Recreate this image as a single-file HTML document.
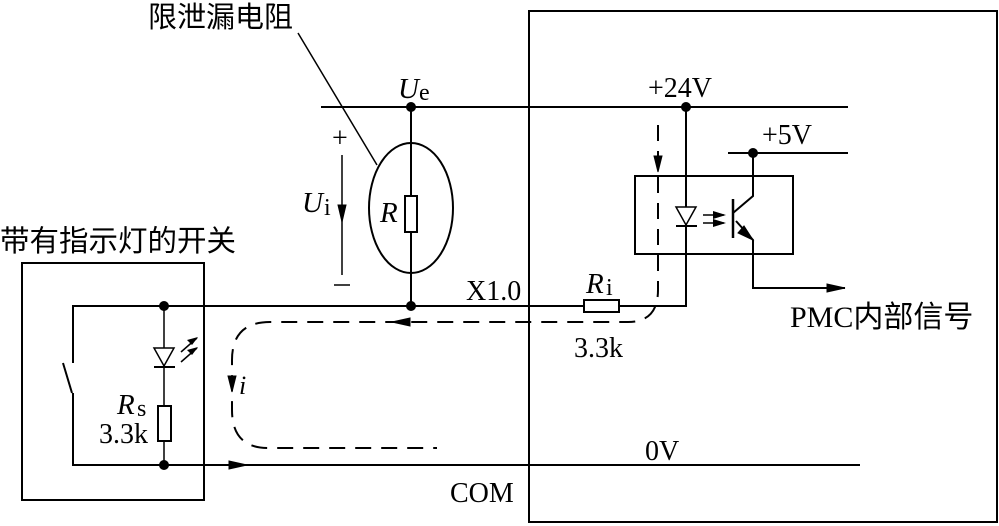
<!DOCTYPE html>
<html><head><meta charset="utf-8"><style>
body{margin:0;background:#fff}
svg{display:block}
text{font-family:"Liberation Serif","Noto Serif CJK SC",serif;fill:#000}
.cj{font-family:"Liberation Serif","Noto Sans CJK SC",sans-serif}
</style></head><body>
<svg width="999" height="526" viewBox="0 0 999 526" xmlns="http://www.w3.org/2000/svg">
<g stroke="#000" stroke-width="2" fill="none">
<rect x="529" y="11" width="468" height="511"/>
<rect x="22" y="263" width="182" height="237"/>
<line x1="321" y1="107" x2="848" y2="107"/>
<line x1="411" y1="107" x2="411" y2="306"/>
<ellipse cx="411" cy="208" rx="42" ry="65"/>
<rect x="405" y="196" width="12" height="36" fill="#fff"/>
<line x1="298" y1="33" x2="377" y2="165" stroke-width="1.5"/>
<line x1="342" y1="155" x2="342" y2="275" stroke-width="1.5"/>
<polyline points="73,363 73,306 584,306"/>
<rect x="584" y="300" width="35" height="12" fill="#fff"/>
<polyline points="619,306 686,306 686,107"/>
<polyline points="73,393 73,465 860,465"/>
<line x1="63" y1="363" x2="72" y2="393"/>
<line x1="164" y1="306" x2="164" y2="465" stroke-width="1.5"/>
<rect x="158" y="406" width="13" height="35" fill="#fff"/>
<rect x="635" y="176" width="158" height="78"/>
<line x1="728" y1="153" x2="848" y2="153"/>
<polyline points="753,153 753,196 733,213"/>
<line x1="733" y1="199" x2="733" y2="238" stroke-width="2.5"/>
<polyline points="736,221 753,240 753,288 845,288"/>
<path d="M658,125 V290 Q658,322 628,322 H270 Q232,322 232,360 V410 Q232,448 268,448 H437" stroke-dasharray="16,10"/>
<line x1="334" y1="285" x2="350" y2="285" stroke-width="1.5"/>
</g>
<g fill="#000" stroke="#000">
<circle cx="411" cy="107" r="4.5"/><circle cx="411" cy="306" r="4.5"/>
<circle cx="686" cy="107" r="4.5"/><circle cx="753" cy="153" r="4.5"/>
<circle cx="164" cy="306" r="4.5"/><circle cx="164" cy="465" r="4.5"/>
<polygon points="342,222 338,205 346,205"/>
<polygon points="658,172 654,156 662,156"/>
<polygon points="392,322 410,318 410,326"/>
<polygon points="232,392 228,376 236,376"/>
<polygon points="247,465 229,461 229,469"/>
<polygon points="845,288 827,284 827,292"/>
<polygon points="753,240 738,233 744,226"/>
<polygon points="154,348 174,348 164,366" fill="#fff" stroke-width="1.5"/>
<line x1="154" y1="367" x2="175" y2="367" stroke-width="2"/>
<polygon points="676,207 696,207 686,225" fill="#fff" stroke-width="1.5"/>
<line x1="676" y1="226" x2="697" y2="226" stroke-width="2"/>
<g stroke-width="1.5">
<line x1="703" y1="215" x2="724" y2="215"/><line x1="703" y1="223" x2="724" y2="223"/>
<line x1="181" y1="352" x2="197" y2="338"/><line x1="181" y1="362" x2="197" y2="348"/>
</g>
<polygon points="726,215 713,211 713,219" stroke="none"/>
<polygon points="726,223 713,219 713,227" stroke="none"/>
<polygon points="198,337 187,340 192,345" stroke="none"/>
<polygon points="198,347 187,350 192,355" stroke="none"/>
</g>
<text x="148" y="27" font-size="29" class="cj">限泄漏电阻</text>
<text x="0" y="251" font-size="29.5" class="cj">带有指示灯的开关</text>
<text x="398" y="98" font-size="29" font-style="italic">U</text><text x="419" y="100" font-size="24">e</text>
<text x="332" y="147" font-size="28">+</text>
<text x="302" y="212" font-size="29" font-style="italic">U</text><text x="324" y="215" font-size="24">i</text>
<text x="380" y="222" font-size="29" font-style="italic">R</text>
<text x="466" y="300" font-size="28">X1.0</text>
<text x="586" y="293" font-size="29" font-style="italic">R</text><text x="606" y="295" font-size="24">i</text>
<text x="574" y="357" font-size="28">3.3k</text>
<text x="648" y="97" font-size="28">+24V</text>
<text x="762" y="144" font-size="28">+5V</text>
<text x="790" y="327" font-size="30" class="cj">PMC内部信号</text>
<text x="239" y="394" font-size="26" font-style="italic">i</text>
<text x="117" y="414" font-size="29" font-style="italic">R</text><text x="137" y="416" font-size="24">s</text>
<text x="99" y="443" font-size="28">3.3k</text>
<text x="645" y="460" font-size="28">0V</text>
<text x="450" y="502" font-size="28">COM</text>
</svg>
</body></html>
